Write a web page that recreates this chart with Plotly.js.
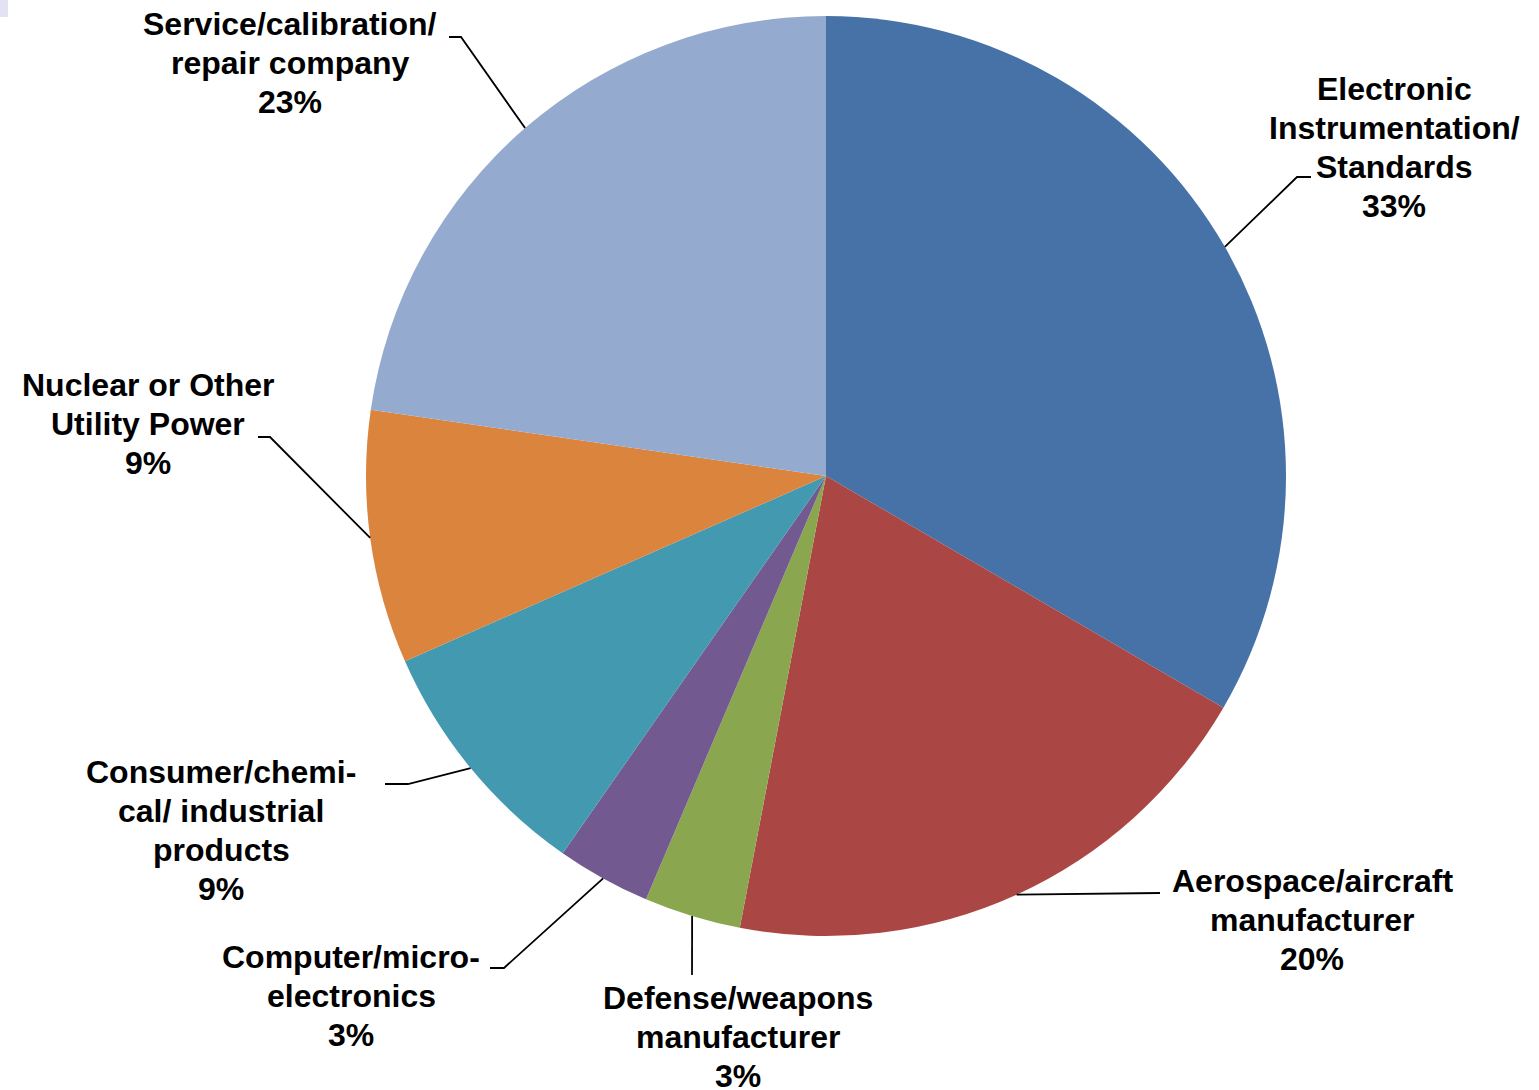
<!DOCTYPE html>
<html>
<head>
<meta charset="utf-8">
<script src="https://cdn.plot.ly/plotly-3.0.1.min.js"></script>
<style>
html,body{margin:0;padding:0;background:#fff;}
#chart{width:1539px;height:1090px;}
</style>
</head>
<body>
<div id="chart"></div>
<script>
// ---- data ----
const categories = [
  'Electronic Instrumentation/Standards',
  'Aerospace/aircraft manufacturer',
  'Defense/weapons manufacturer',
  'Computer/micro-electronics',
  'Consumer/chemical/ industrial products',
  'Nuclear or Other Utility Power',
  'Service/calibration/repair company'
];
const values = [33.4, 19.6, 3.4, 3.3, 8.7, 8.9, 22.7];
const labelLines = [
  ['Electronic', 'Instrumentation/', 'Standards'],
  ['Aerospace/aircraft', 'manufacturer'],
  ['Defense/weapons', 'manufacturer'],
  ['Computer/micro-', 'electronics'],
  ['Consumer/chemi-', 'cal/ industrial', 'products'],
  ['Nuclear or Other', 'Utility Power'],
  ['Service/calibration/', 'repair company']
];
const colors = ['#4672A7', '#AA4744', '#8AA64F', '#725A90', '#4399B0', '#DB843E', '#94AACF'];

// ---- layout helpers (positions in pixels) ----
const W = 1539, H = 1090;
const CX = 826, CY = 476, R = 460;
const labelPos = [
  [1394, 89], [1312, 881], [738, 998], [351, 957], [221, 772], [148, 385], [290, 24]
];
const leaderPts = [
  [[1311, 177], [1297, 177]],
  [[1160, 893]],
  [[692, 975]],
  [[490, 968], [504, 968]],
  [[385, 784], [408, 784]],
  [[258, 437], [270, 437]],
  [[449, 37], [461, 37]]
];
const FS = 32, PITCH = 39;
const px = x => x / W;
const py = y => 1 - y / H;

const total = values.reduce((a, b) => a + b, 0);
const annotations = [];
const shapes = [];
let cum = 0;
values.forEach((v, i) => {
  const mid = (cum + v / 2) / total * 2 * Math.PI;
  cum += v;
  const ex = CX + R * Math.sin(mid), ey = CY - R * Math.cos(mid);
  const pct = Math.round(v / total * 100) + '%';
  const lines = labelLines[i].concat([pct]);
  lines.forEach((t, k) => {
    annotations.push({
      text: '<b>' + t + '</b>', showarrow: false,
      xref: 'paper', yref: 'paper',
      x: px(labelPos[i][0]), y: py(labelPos[i][1] + k * PITCH),
      xanchor: 'center', yanchor: 'middle',
      font: {family: 'Liberation Sans, Arial, sans-serif', size: FS, color: '#000'}
    });
  });
  const pts = leaderPts[i].concat([[ex, ey]]);
  const path = pts.map((p, k) => (k ? 'L' : 'M') + px(p[0]) + ',' + py(p[1])).join(' ');
  shapes.push({type: 'path', xref: 'paper', yref: 'paper', path: path,
    line: {color: '#000', width: 1.8}});
});
shapes.push({type: 'rect', xref: 'paper', yref: 'paper', x0: 0, x1: px(8), y0: py(17), y1: 1,
  fillcolor: '#E2E2F2', line: {width: 0}, layer: 'below'});

const trace = {
  type: 'pie',
  labels: categories,
  values: values,
  sort: false,
  direction: 'clockwise',
  rotation: 0,
  textinfo: 'none',
  hoverinfo: 'label+percent',
  marker: {colors: colors, line: {width: 0}},
  domain: {x: [px(CX - R), px(CX + R)], y: [py(CY + R), py(CY - R)]}
};

Plotly.newPlot('chart', [trace], {
  width: W, height: H,
  margin: {l: 0, r: 0, t: 0, b: 0},
  paper_bgcolor: '#fff',
  showlegend: false,
  annotations: annotations,
  shapes: shapes
}, {displayModeBar: false, staticPlot: true});
</script>
</body>
</html>
